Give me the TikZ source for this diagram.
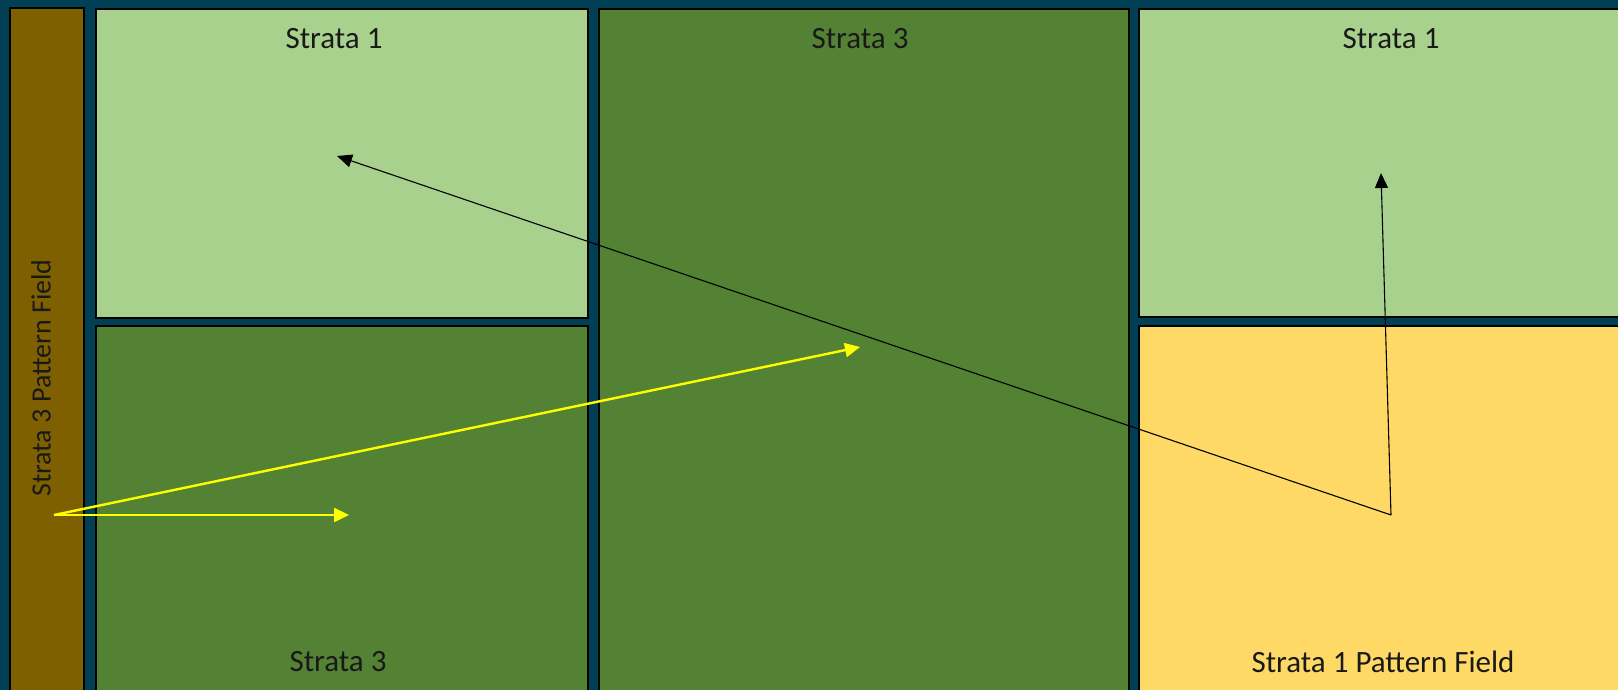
\documentclass[tikz,border=0pt]{standalone}
\usepackage{fontspec}
\setmainfont{Carlito}
\usetikzlibrary{arrows.meta}
\definecolor{bgteal}{HTML}{003F54}
\definecolor{lgreen}{HTML}{A9D18E}
\definecolor{dgreen}{HTML}{548235}
\definecolor{ylw}{HTML}{FFD966}
\definecolor{brwn}{HTML}{7F6000}
\definecolor{arrowyellow}{HTML}{FFFF00}
\tikzset{
  field/.style={draw=black, line width=2.5pt},
  lbl/.style={font=\fontsize{31}{36}\selectfont, text=black!90, inner sep=0pt},
  yarrow/.style={draw=arrowyellow, line width=2.4pt, -{Triangle[length=15pt,width=14pt]}},
  karrow/.style={draw=black, line width=1.1pt, -{Triangle[length=15pt,width=13pt]}}
}
\begin{document}
\begin{tikzpicture}[x=1pt,y=-1pt]
\useasboundingbox (0,0) rectangle (1618,689);
\clip (-6,-6) rectangle (1624,696);
\fill[bgteal] (-6,-6) rectangle (1624,696);
% fields
\draw[field, fill=brwn]   (10,8)    rectangle (84,710);
\draw[field, fill=lgreen] (96,9)    rectangle (588,318);
\draw[field, fill=dgreen] (96,326)  rectangle (588,710);
\draw[field, fill=dgreen] (599,9)   rectangle (1129,710);
\draw[field, fill=lgreen] (1139,9)  rectangle (1640,317);
\draw[field, fill=ylw]    (1139,326) rectangle (1640,710);
% labels
\node[lbl] (tl) at (334,39) {Strata 1};
\node[lbl] (mid) at (860,39) {Strata 3};
\node[lbl] (tr) at (1391,39) {Strata 1};
\node[lbl] (bl) at (338,662) {Strata 3};
\node[lbl] (br) at (1383,662) {Strata 1 Pattern Field};
\node[lbl, rotate=90, font=\fontsize{28}{33}\selectfont] (lf) at (41,378) {Strata 3 Pattern Field};
% arrows
\coordinate (ys) at (54,515);
\coordinate (ye1) at (349,515);
\coordinate (ye2) at (860,347);
\coordinate (ks) at (1391,515);
\coordinate (ke1) at (337,156);
\coordinate (ke2) at (1381,173);
\draw[yarrow] (ys) -- (ye1);
\draw[yarrow] (ys) -- (ye2);
\draw[karrow] (ks) -- (ke1);
\draw[karrow] (ks) -- (ke2);
\end{tikzpicture}
\end{document}
